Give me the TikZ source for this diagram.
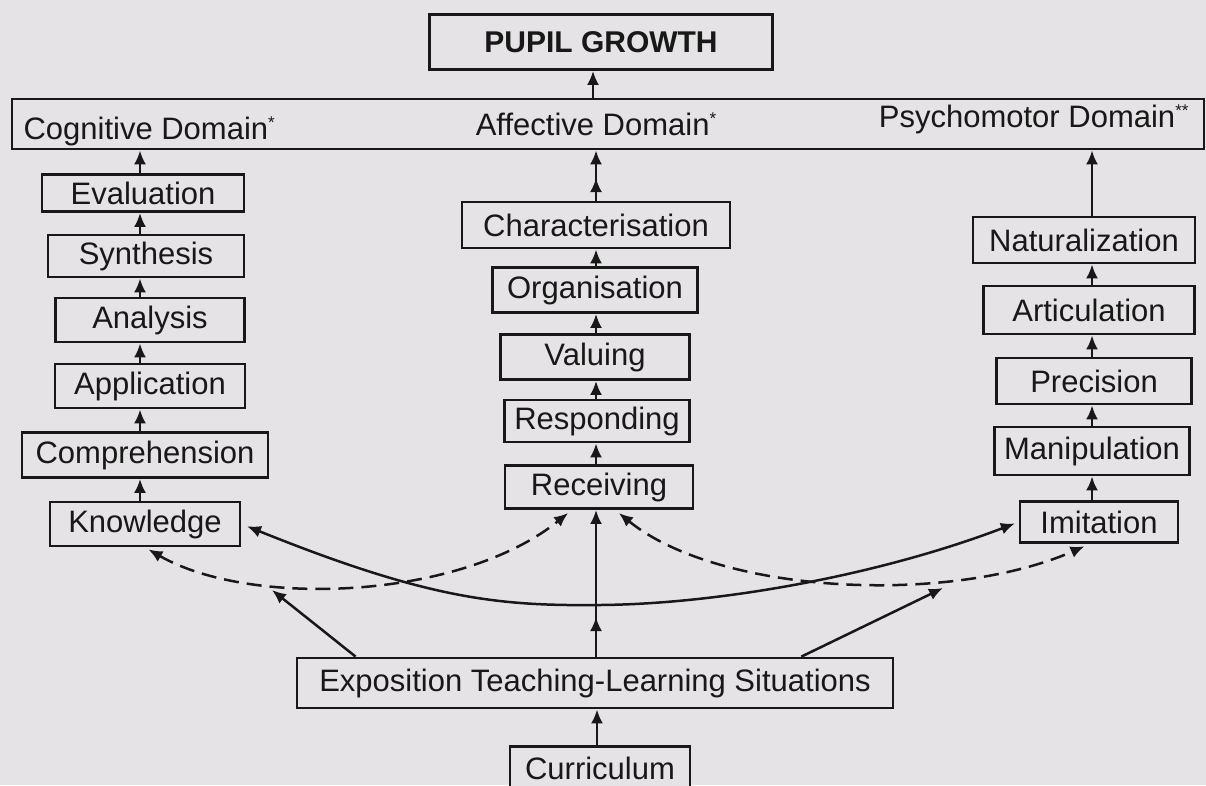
\documentclass[tikz,border=0pt]{standalone}
\usepackage{fontspec}
\setmainfont{Liberation Sans}
\usetikzlibrary{arrows.meta}
\definecolor{paper}{RGB}{229,227,229}
\definecolor{ink}{RGB}{24,24,24}
% small raised star used after the domain names
\newcommand{\dstar}{\raisebox{0.35em}{\fontsize{17}{17}\selectfont *}}
\begin{document}
\begin{tikzpicture}[x=1pt,y=-1pt,
  labelfont/.style={font=\fontsize{31}{34}\selectfont},
  box/.style={draw=ink, line width=2.8pt, fill=paper, inner sep=0pt, text=ink, labelfont},
  tip/.style={-{Latex[length=14pt,width=12pt]}},
  link/.style={draw=ink, line width=2.5pt, tip},
  twoway/.style={draw=ink, line width=2.5pt, {Latex[length=14pt,width=12pt]}-{Latex[length=14pt,width=12pt]}},
  dashlink/.style={twoway, dash pattern=on 15pt off 8pt}]

% paper
\fill[paper] (0,0) rectangle (1206,785);
\useasboundingbox (0,0) rectangle (1206,785);

% top: outcome and the three domains
\node[box, minimum width=343, minimum height=55, font=\fontsize{30}{34}\selectfont\bfseries] (growth) at (601,42) {PUPIL GROWTH};
\node[box, minimum width=1192, minimum height=50] (bar) at (608,124) {};
\node[text=ink, labelfont, anchor=west] (cogl) at (20,131) {Cognitive Domain\dstar};
\node[text=ink, labelfont] (affl) at (596,124) {Affective Domain\dstar};
\node[text=ink, labelfont, anchor=east] (psyl) at (1192,119) {Psychomotor Domain\dstar\dstar};

% cognitive column
\node[box, minimum width=202, minimum height=37] (eval) at (143,193) {Evaluation};
\node[box, minimum width=196, minimum height=42] (synt) at (146,256) {Synthesis};
\node[box, minimum width=189, minimum height=44] (anal) at (150,320) {Analysis};
\node[box, minimum width=190, minimum height=44] (appl) at (150,386) {Application};
\node[box, minimum width=246, minimum height=45] (comp) at (145,455) {Comprehension};
\node[box, minimum width=190, minimum height=44] (know) at (145,524) {Knowledge};

% affective column
\node[box, minimum width=268, minimum height=46] (char) at (596,225) {Characterisation};
\node[box, minimum width=205, minimum height=45] (orga) at (595,290) {Organisation};
\node[box, minimum width=189, minimum height=45] (valu) at (595,357) {Valuing};
\node[box, minimum width=185, minimum height=42] (resp) at (597,421) {Responding};
\node[box, minimum width=188, minimum height=43] (rece) at (599,487) {Receiving};

% psychomotor column
\node[box, minimum width=222, minimum height=46] (natu) at (1084,240) {Naturalization};
\node[box, minimum width=211, minimum height=48] (arti) at (1089,310) {Articulation};
\node[box, minimum width=195, minimum height=46] (prec) at (1094,381) {Precision};
\node[box, minimum width=195, minimum height=48] (mani) at (1092,451) {Manipulation};
\node[box, minimum width=158, minimum height=41] (imit) at (1099,522) {Imitation};

% base
\node[box, minimum width=596, minimum height=50] (expo) at (595,683) {Exposition Teaching-Learning Situations};
\node[box, minimum width=180, minimum height=44, anchor=north] (curr) at (600,745) {Curriculum};

% helper points on the connectors
\coordinate (affmid) at (596,178);
\coordinate (rcvmid) at (596,617);
\coordinate (lefthit) at (272,590);
\coordinate (righthit) at (943,588);

% cognitive chain
\draw[link] (know.north -| 140,0) -- (comp.south -| 140,0);
\draw[link] (comp.north -| 140,0) -- (appl.south -| 140,0);
\draw[link] (appl.north -| 140,0) -- (anal.south -| 140,0);
\draw[link] (anal.north -| 140,0) -- (synt.south -| 140,0);
\draw[link] (synt.north -| 140,0) -- (eval.south -| 140,0);
\draw[link] (eval.north -| 140,0) -- (bar.south -| 140,0);

% affective chain
\draw[link] (rece.north -| 596,0) -- (resp.south -| 596,0);
\draw[link] (resp.north -| 596,0) -- (valu.south -| 596,0);
\draw[link] (valu.north -| 596,0) -- (orga.south -| 596,0);
\draw[link] (orga.north -| 596,0) -- (char.south -| 596,0);
\draw[link] (char.north -| 596,0) -- (bar.south -| 596,0);
\draw[link] (char.north -| 596,0) -- (affmid);

% psychomotor chain
\draw[link] (imit.north -| 1092,0) -- (mani.south -| 1092,0);
\draw[link] (mani.north -| 1092,0) -- (prec.south -| 1092,0);
\draw[link] (prec.north -| 1092,0) -- (arti.south -| 1092,0);
\draw[link] (arti.north -| 1092,0) -- (natu.south -| 1092,0);
\draw[link] (natu.north -| 1092,0) -- (bar.south -| 1092,0);

% domains to growth
\draw[link] (bar.north -| 593,0) -- (growth.south -| 593,0);

% base connections
\draw[link] (curr.north -| 597,0) -- (expo.south -| 597,0);
\draw[link] (expo.north -| 596,0) -- (rece.south -| 596,0);
\draw[link] (expo.north -| 596,0) -- (rcvmid);
\draw[link] ([xshift=60pt]expo.north west) -- (lefthit);
\draw[link] ([xshift=-93pt]expo.north east) -- (righthit);

% cross links between the domains
\draw[twoway, shorten <=6pt, shorten >=4pt] (know.east)
  .. controls (430,600) and (500,606) .. (600,605)
  .. controls (720,604) and (880,575) .. (imit.west);
\draw[dashlink, shorten <=4pt, shorten >=5pt] (know.south)
  .. controls (250,608) and (460,600) .. ([xshift=-27pt]rece.south);
\draw[dashlink, shorten <=5pt, shorten >=6pt] ([xshift=16pt]rece.south)
  .. controls (720,595) and (950,605) .. ([xshift=-9pt]imit.south);
\end{tikzpicture}
\end{document}
